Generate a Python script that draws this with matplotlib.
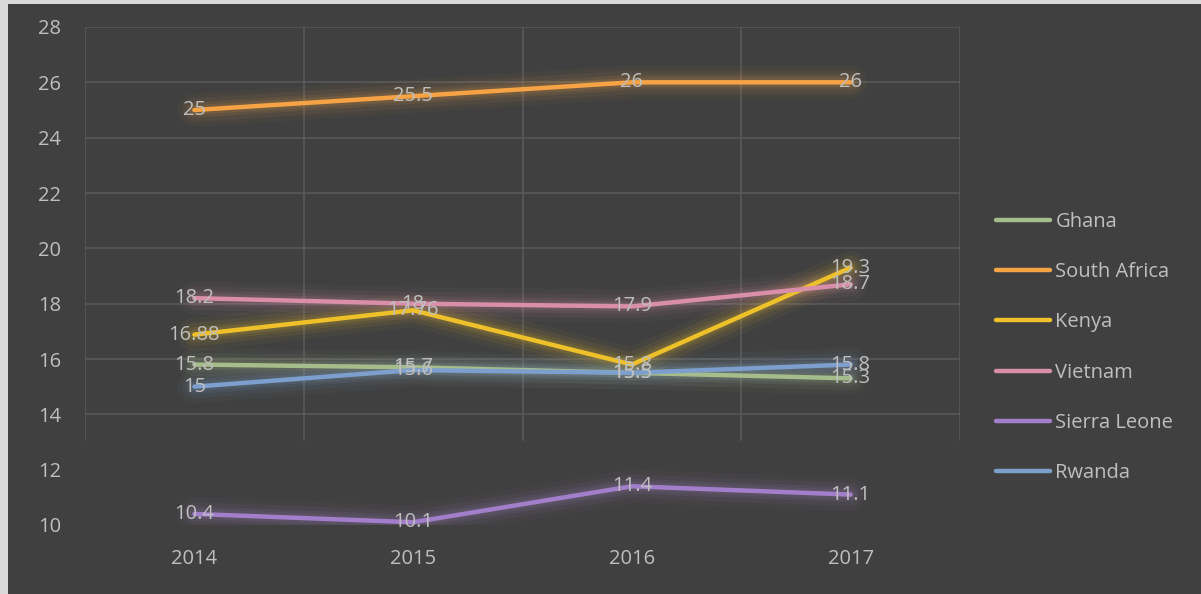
import matplotlib
matplotlib.use("Agg")
import matplotlib.pyplot as plt
from matplotlib.patches import Rectangle

# ---- data ----
years = ["2014", "2015", "2016", "2017"]
countries = ["Ghana", "South Africa", "Kenya", "Vietnam", "Sierra Leone", "Rwanda"]
ghana = [15.8, 15.7, 15.5, 15.3]
south_africa = [25, 25.5, 26, 26]
kenya = [16.88, 17.76, 15.8, 19.3]
vietnam = [18.2, 18, 17.9, 18.7]
sierra_leone = [10.4, 10.1, 11.4, 11.1]
rwanda = [15, 15.6, 15.5, 15.8]
y_ticks = [10, 12, 14, 16, 18, 20, 22, 24, 26, 28]

series = [ghana, south_africa, kenya, vietnam, sierra_leone, rwanda]
colors = ["#A5BD8A", "#F6A346", "#EEC02A", "#D98FAA", "#A37FCB", "#7C9FCE"]

BG = "#404040"
TXT = "#BFBFBF"
GRID = "#595959"
FONT = "Open Sans"
FS = 14.5

fig = plt.figure(figsize=(12.01, 5.94), dpi=100, facecolor=BG)
# light edge strips on top and left
edge = "#D9D9D9"
fig.patches.append(Rectangle((0, 1 - 4 / 594), 1, 4 / 594, transform=fig.transFigure,
                             facecolor=edge, edgecolor="none"))
fig.patches.append(Rectangle((0, 0), 8 / 1201, 1, transform=fig.transFigure,
                             facecolor=edge, edgecolor="none"))

ax = fig.add_axes([85 / 1201, 1 - 525 / 594, 875 / 1201, 498 / 594])
ax.set_facecolor(BG)
for s in ax.spines.values():
    s.set_visible(False)

x = list(range(len(years)))
ax.set_xlim(-0.5, len(years) - 0.5)
ax.set_ylim(10, 28)

# gridlines (vertical between categories); the low ones fade out in the reference
for yv in y_ticks[2:]:
    ax.axhline(yv, color=GRID, lw=1.2, zorder=1)
for xv in [i - 0.5 for i in range(len(years) + 1)]:
    ax.axvline(xv, ymin=0.17, color=GRID, lw=1.2, zorder=1)

# glow + lines
for vals, c in zip(series, colors):
    for w, a in [(24, 0.045), (17, 0.065), (11, 0.09), (7, 0.12)]:
        ax.plot(x, vals, color=c, lw=w, alpha=a, solid_capstyle="round", zorder=2)
for vals, c, name in zip(series, colors, countries):
    ax.plot(x, vals, color=c, lw=3.2, solid_capstyle="round", zorder=3, label=name)

# data labels centered on points
for vals in series:
    for xi, v in zip(x, vals):
        ax.text(xi, v, f"{v:g}", ha="center", va="center", color=TXT,
                fontsize=FS, family=FONT, zorder=5)

ax.set_xticks(x)
ax.set_xticklabels(years)
ax.set_yticks(y_ticks)
ax.tick_params(length=0, colors=TXT, labelsize=FS)
ax.tick_params(axis="y", pad=17)
ax.tick_params(axis="x", pad=17)
for lab in ax.get_xticklabels() + ax.get_yticklabels():
    lab.set_family(FONT)

leg = fig.legend(loc="center left", bbox_to_anchor=(996 / 1201, 1 - 347.5 / 594),
                 frameon=False, handlelength=2.7, handletextpad=0.25,
                 labelspacing=1.5, borderpad=0, borderaxespad=0,
                 prop={"family": FONT, "size": FS})
for t in leg.get_texts():
    t.set_color(TXT)

fig.savefig("out.png", dpi=100, facecolor=fig.get_facecolor())
